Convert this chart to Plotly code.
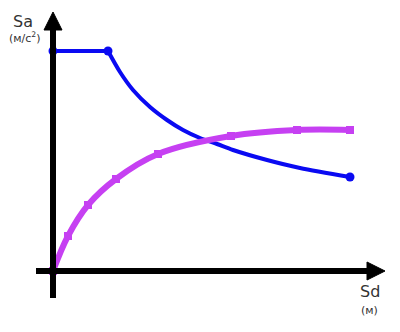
import plotly.graph_objects as go

# Capacity (blue) and demand (purple) spectra, Sd in m, Sa in m/s^2 (arbitrary units)
blue_sd = [0.0, 0.55, 0.67, 0.80, 0.97, 1.14, 1.30, 1.47, 1.64, 1.80, 2.14, 2.47, 2.97]
blue_sa = [2.20, 2.20, 1.99, 1.81, 1.64, 1.51, 1.41, 1.33, 1.27, 1.21, 1.11, 1.03, 0.94]
blue_marker_sd = [0.0, 0.55, 2.97]
blue_marker_sa = [2.20, 2.20, 0.94]

purple_sd = [0.0, 0.15, 0.35, 0.63, 1.05, 1.78, 2.44, 2.97]
purple_sa = [0.0, 0.35, 0.66, 0.92, 1.17, 1.35, 1.41, 1.41]

BLUE = "#0a0af2"
PURPLE = "#c640f2"
AX = "#000000"

fig = go.Figure()

# blue plateau (linear) then curve (spline)
fig.add_trace(go.Scatter(x=blue_sd[:2], y=blue_sa[:2], mode="lines",
                         line=dict(color=BLUE, width=4), hoverinfo="skip"))
fig.add_trace(go.Scatter(x=blue_sd[1:], y=blue_sa[1:], mode="lines",
                         line=dict(color=BLUE, width=4, shape="spline", smoothing=0.8),
                         hoverinfo="skip"))
fig.add_trace(go.Scatter(x=blue_marker_sd, y=blue_marker_sa, mode="markers",
                         marker=dict(color=BLUE, size=9, symbol="circle"), hoverinfo="skip"))

fig.add_trace(go.Scatter(x=purple_sd, y=purple_sa, mode="lines+markers",
                         line=dict(color=PURPLE, width=6, shape="spline", smoothing=1.0),
                         marker=dict(color=PURPLE, size=8, symbol="square"),
                         hoverinfo="skip"))

shapes = [
    # y axis
    dict(type="line", x0=0, x1=0, y0=-0.27, y1=2.42, line=dict(color=AX, width=6)),
    dict(type="path", path="M -0.09 2.41 L 0.09 2.41 L 0 2.59 Z",
         fillcolor=AX, line=dict(color=AX, width=1)),
    # x axis
    dict(type="line", x0=-0.17, x1=3.15, y0=0, y1=0, line=dict(color=AX, width=6)),
    dict(type="path", path="M 3.14 -0.09 L 3.14 0.09 L 3.32 0 Z",
         fillcolor=AX, line=dict(color=AX, width=1)),
]

TXT = "#333333"
FONT = "DejaVu Sans"
annotations = [
    dict(x=23/400, y=1-21/332, xref="paper", yref="paper", text="Sa", showarrow=False,
         font=dict(family=FONT, size=16, color=TXT), xanchor="center", yanchor="middle"),
    dict(x=25/400, y=1-37/332, xref="paper", yref="paper", text="(м/с<sup>2</sup>)",
         showarrow=False, font=dict(family=FONT, size=11, color=TXT),
         xanchor="center", yanchor="middle"),
    dict(x=370/400, y=1-291/332, xref="paper", yref="paper", text="Sd", showarrow=False,
         font=dict(family=FONT, size=16, color=TXT), xanchor="center", yanchor="middle"),
    dict(x=369/400, y=1-310/332, xref="paper", yref="paper", text="(м)", showarrow=False,
         font=dict(family=FONT, size=11, color=TXT), xanchor="center", yanchor="middle"),
]

fig.update_layout(
    width=400, height=332, margin=dict(l=0, r=0, t=0, b=0),
    paper_bgcolor="white", plot_bgcolor="white", showlegend=False,
    xaxis=dict(range=[-0.53, 3.47], visible=False, fixedrange=True),
    yaxis=dict(range=[-0.61, 2.71], visible=False, fixedrange=True),
    shapes=shapes, annotations=annotations,
)

fig.write_html("out.html", config={"displayModeBar": False})
